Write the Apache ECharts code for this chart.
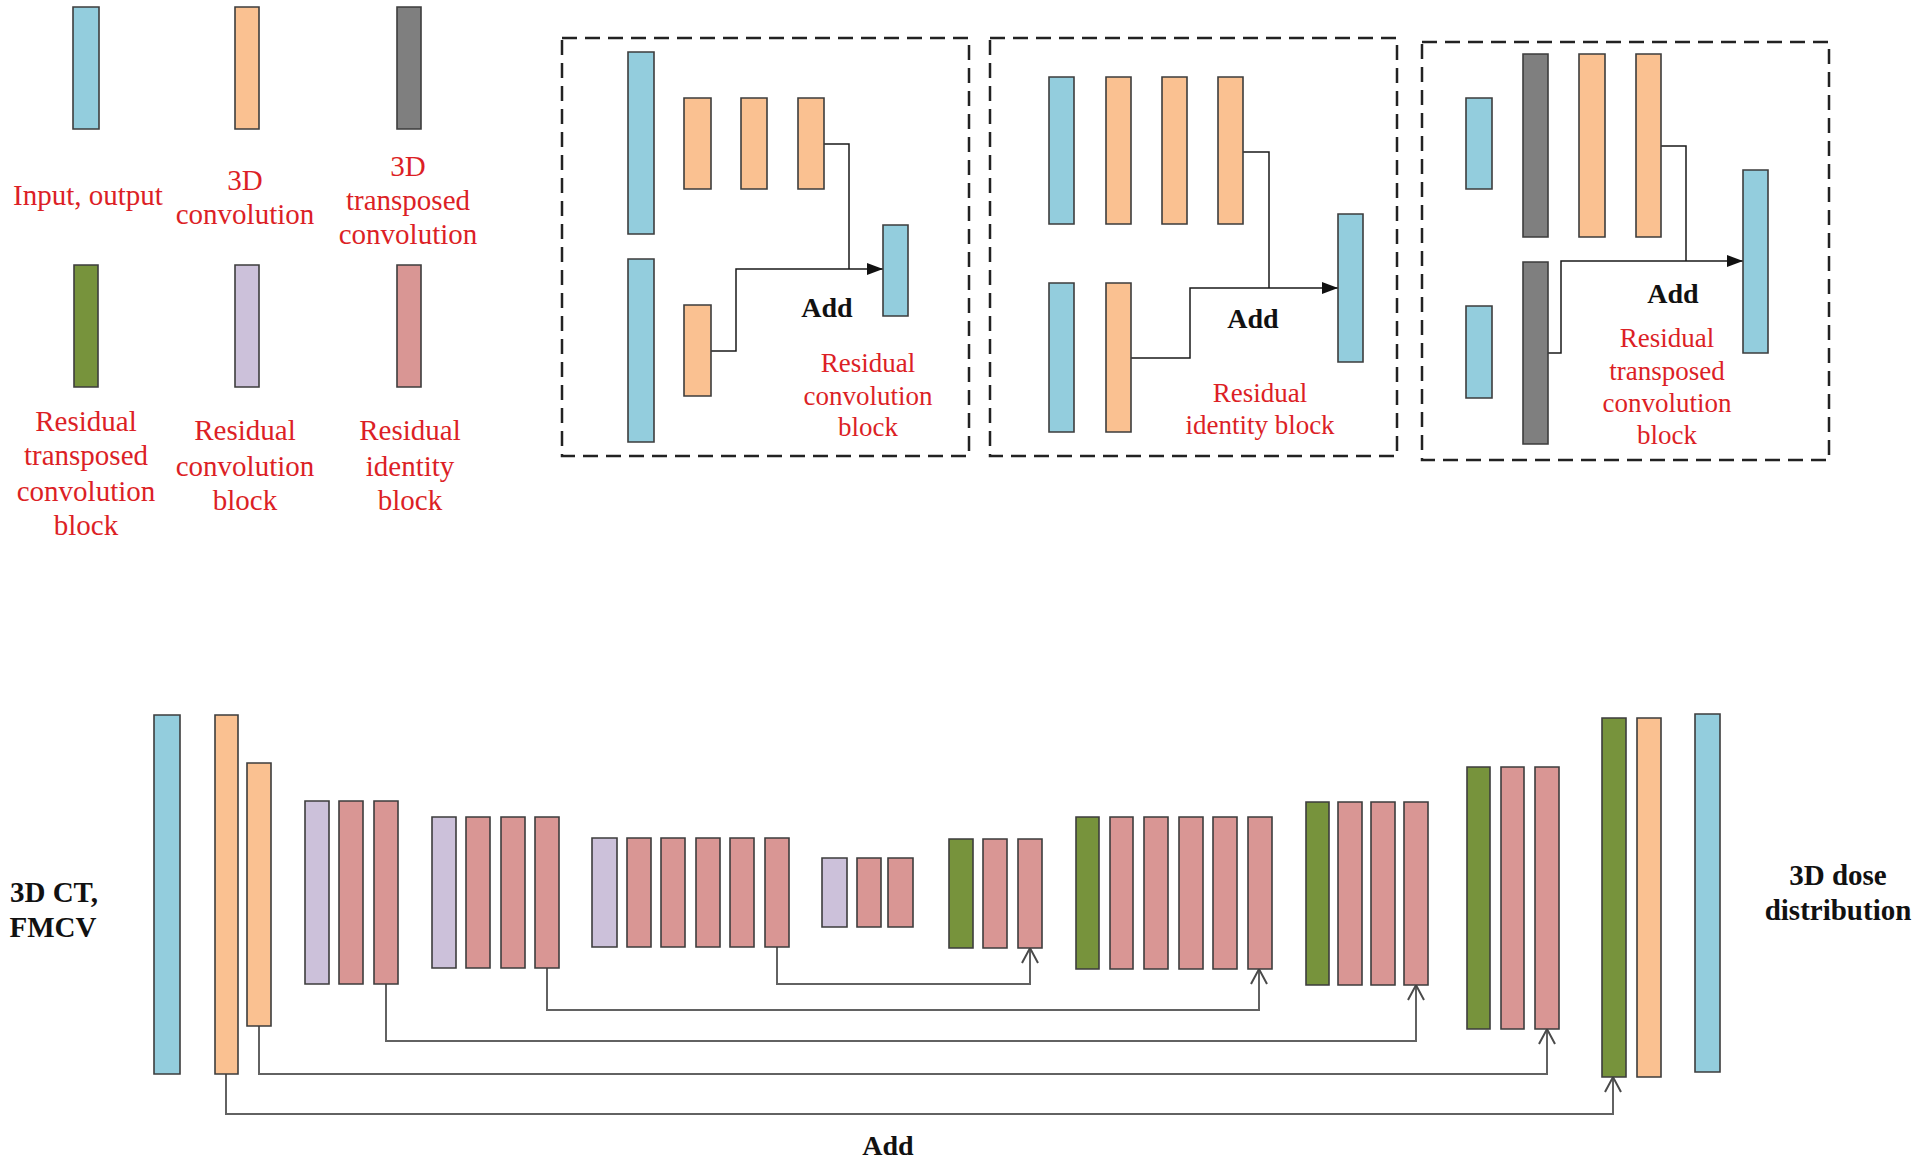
<!DOCTYPE html>
<html>
<head>
<meta charset="utf-8">
<script src="https://cdn.jsdelivr.net/npm/echarts@6/dist/echarts.min.js"></script>
<style>
html,body{margin:0;padding:0;background:#fff;}
#chart{width:1920px;height:1161px;}
</style>
</head>
<body>
<div id="chart"></div>
<script>
// ---- data (diagram units: x 0..1920, y 0..1161, y downward) ----
// block types: 0 input/output, 1 3D conv, 2 3D transposed conv, 3 residual transposed conv block, 4 residual conv block, 5 residual identity block
const typeColors = ['#93cddd', '#fac191', '#7f7f7f', '#77933c', '#ccc1da', '#d99694'];

const legendBlocks = [
  [73, 7, 99, 129, 0], [235, 7, 259, 129, 1], [397, 7, 421, 129, 2],
  [74, 265, 98, 387, 3], [235, 265, 259, 387, 4], [397, 265, 421, 387, 5]
];

const boxBlocks = [
  // residual convolution block
  [628, 52, 654, 234, 0], [684, 98, 711, 189, 1], [741, 98, 767, 189, 1], [798, 98, 824, 189, 1],
  [628, 259, 654, 442, 0], [684, 305, 711, 396, 1], [883, 225, 908, 316, 0],
  // residual identity block
  [1049, 77, 1074, 224, 0], [1106, 77, 1131, 224, 1], [1162, 77, 1187, 224, 1], [1218, 77, 1243, 224, 1],
  [1049, 283, 1074, 432, 0], [1106, 283, 1131, 432, 1], [1338, 214, 1363, 362, 0],
  // residual transposed convolution block
  [1466, 98, 1492, 189, 0], [1523, 54, 1548, 237, 2], [1579, 54, 1605, 237, 1], [1636, 54, 1661, 237, 1],
  [1466, 306, 1492, 398, 0], [1523, 262, 1548, 444, 2], [1743, 170, 1768, 353, 0]
];

const netBlocks = [
  [154, 715, 180, 1074, 0], [215, 715, 238, 1074, 1], [247, 763, 271, 1026, 1],
  [305, 801, 329, 984, 4], [339, 801, 363, 984, 5], [374, 801, 398, 984, 5],
  [432, 817, 456, 968, 4], [466, 817, 490, 968, 5], [501, 817, 525, 968, 5], [535, 817, 559, 968, 5],
  [592, 838, 617, 947, 4], [627, 838, 651, 947, 5], [661, 838, 685, 947, 5], [696, 838, 720, 947, 5], [730, 838, 754, 947, 5], [765, 838, 789, 947, 5],
  [822, 858, 847, 927, 4], [857, 858, 881, 927, 5], [888, 858, 913, 927, 5],
  [949, 839, 973, 948, 3], [983, 839, 1007, 948, 5], [1018, 839, 1042, 948, 5],
  [1076, 817, 1099, 969, 3], [1110, 817, 1133, 969, 5], [1144, 817, 1168, 969, 5], [1179, 817, 1203, 969, 5], [1213, 817, 1237, 969, 5], [1248, 817, 1272, 969, 5],
  [1306, 802, 1329, 985, 3], [1338, 802, 1362, 985, 5], [1371, 802, 1395, 985, 5], [1404, 802, 1428, 985, 5],
  [1467, 767, 1490, 1029, 3], [1501, 767, 1524, 1029, 5], [1535, 767, 1559, 1029, 5],
  [1602, 718, 1626, 1077, 3], [1637, 718, 1661, 1077, 1], [1695, 714, 1720, 1072, 0]
];

const dashedFrames = [
  [562, 38, 969, 456], [990, 38, 1397, 456], [1422, 42, 1829, 460]
];

// connectors inside the dashed boxes; arrow: 0 none, 1 filled head at end
const boxPaths = [
  [[[824, 144], [849, 144], [849, 269]], 0],
  [[[711, 351], [736, 351], [736, 269], [883, 269]], 1],
  [[[1243, 152], [1269, 152], [1269, 288]], 0],
  [[[1131, 358], [1190, 358], [1190, 288], [1338, 288]], 1],
  [[[1661, 146], [1686, 146], [1686, 261]], 0],
  [[[1548, 353], [1561, 353], [1561, 261], [1743, 261]], 1]
];

// skip connections in the network (open arrow head at end)
const skipPaths = [
  [[777, 947], [777, 984], [1030, 984], [1030, 948]],
  [[547, 968], [547, 1010], [1259, 1010], [1259, 969]],
  [[386, 984], [386, 1041], [1416, 1041], [1416, 985]],
  [[259, 1026], [259, 1074], [1547, 1074], [1547, 1029]],
  [[226, 1074], [226, 1114], [1613, 1114], [1613, 1077]]
];

// texts: [x, y, text, style] style 0 = red legend 29px, 1 = red box 27px, 2 = bold black 29px, 3 = bold black "Add" 28px
const texts = [
  [88, 195, 'Input, output', 0],
  [245, 180, '3D', 0], [245, 214, 'convolution', 0],
  [408, 166, '3D', 0], [408, 200, 'transposed', 0], [408, 234, 'convolution', 0],
  [86, 421, 'Residual', 0], [86, 455, 'transposed', 0], [86, 491, 'convolution', 0], [86, 525, 'block', 0],
  [245, 430, 'Residual', 0], [245, 466, 'convolution', 0], [245, 500, 'block', 0],
  [410, 430, 'Residual', 0], [410, 466, 'identity', 0], [410, 500, 'block', 0],
  [827, 307, 'Add', 3], [1253, 318, 'Add', 3], [1673, 293, 'Add', 3],
  [868, 363, 'Residual', 1], [868, 396, 'convolution', 1], [868, 427, 'block', 1],
  [1260, 393, 'Residual', 1], [1260, 425, 'identity block', 1],
  [1667, 338, 'Residual', 1], [1667, 371, 'transposed', 1], [1667, 403, 'convolution', 1], [1667, 435, 'block', 1],
  [54, 892, '3D CT,', 2], [53, 927, 'FMCV', 2],
  [1838, 875, '3D dose', 2], [1838, 910, 'distribution', 2],
  [888, 1145, 'Add', 3]
];

// ---- rendering ----
const textStyles = [
  { font: '29px "Liberation Serif", "Times New Roman", serif', fill: '#dc1f26' },
  { font: '27px "Liberation Serif", "Times New Roman", serif', fill: '#dc1f26' },
  { font: 'bold 29px "Liberation Serif", "Times New Roman", serif', fill: '#111' },
  { font: 'bold 28px "Liberation Serif", "Times New Roman", serif', fill: '#111' }
];

function blockSeries(arr, name) {
  return {
    type: 'custom', name: name, coordinateSystem: 'cartesian2d', clip: false, silent: true,
    data: arr.map(b => [b[0], b[1], b[2], b[3]]),
    renderItem: function (params, api) {
      const b = arr[params.dataIndex];
      const p0 = api.coord([api.value(0), api.value(1)]);
      const p1 = api.coord([api.value(2), api.value(3)]);
      return {
        type: 'rect',
        shape: { x: p0[0], y: p0[1], width: p1[0] - p0[0], height: p1[1] - p0[1] },
        style: { fill: typeColors[b[4]], stroke: '#3d3d3d', lineWidth: 1.6 }
      };
    }
  };
}

const chart = echarts.init(document.getElementById('chart'), null, { renderer: 'svg' });
chart.setOption({
  animation: false,
  backgroundColor: '#ffffff',
  grid: { left: 0, right: 0, top: 0, bottom: 0 },
  xAxis: { type: 'value', min: 0, max: 1920, show: false },
  yAxis: { type: 'value', min: 0, max: 1161, inverse: true, show: false },
  series: [
    {
      type: 'custom', name: 'frames', coordinateSystem: 'cartesian2d', clip: false, silent: true,
      data: dashedFrames.map(f => f.slice()),
      renderItem: function (params, api) {
        const p0 = api.coord([api.value(0), api.value(1)]);
        const p1 = api.coord([api.value(2), api.value(3)]);
        return {
          type: 'rect',
          shape: { x: p0[0], y: p0[1], width: p1[0] - p0[0], height: p1[1] - p0[1] },
          style: { fill: 'none', stroke: '#222', lineWidth: 2.5, lineDash: [15, 8] }
        };
      }
    },
    {
      type: 'custom', name: 'boxLinks', coordinateSystem: 'cartesian2d', clip: false, silent: true,
      data: boxPaths.map(p => [p[0][0][0], p[0][0][1]]),
      renderItem: function (params, api) {
        const item = boxPaths[params.dataIndex];
        const pts = item[0].map(pt => api.coord(pt));
        const children = [{
          type: 'polyline', shape: { points: pts },
          style: { fill: 'none', stroke: '#1a1a1a', lineWidth: 1.5 }
        }];
        if (item[1]) {
          const e = pts[pts.length - 1], s = pts[pts.length - 2];
          const dx = e[0] - s[0], dy = e[1] - s[1], L = Math.hypot(dx, dy);
          const ux = dx / L, uy = dy / L, len = 16, hw = 6;
          children.push({
            type: 'polygon',
            shape: { points: [e, [e[0] - ux * len - uy * hw, e[1] - uy * len + ux * hw], [e[0] - ux * len + uy * hw, e[1] - uy * len - ux * hw]] },
            style: { fill: '#111' }
          });
        }
        return { type: 'group', children: children };
      }
    },
    {
      type: 'custom', name: 'skips', coordinateSystem: 'cartesian2d', clip: false, silent: true,
      data: skipPaths.map(p => [p[0][0], p[0][1]]),
      renderItem: function (params, api) {
        const path = skipPaths[params.dataIndex];
        const pts = path.map(pt => api.coord(pt));
        const e = pts[pts.length - 1], s = pts[pts.length - 2];
        const dx = e[0] - s[0], dy = e[1] - s[1], L = Math.hypot(dx, dy);
        const ux = dx / L, uy = dy / L, len = 15, hw = 8;
        return {
          type: 'group', children: [
            { type: 'polyline', shape: { points: pts }, style: { fill: 'none', stroke: '#626262', lineWidth: 2 } },
            {
              type: 'polyline',
              shape: { points: [[e[0] - ux * len - uy * hw, e[1] - uy * len + ux * hw], e, [e[0] - ux * len + uy * hw, e[1] - uy * len - ux * hw]] },
              style: { fill: 'none', stroke: '#4a4a4a', lineWidth: 2 }
            }
          ]
        };
      }
    },
    blockSeries(legendBlocks, 'legendBlocks'),
    blockSeries(boxBlocks, 'boxBlocks'),
    blockSeries(netBlocks, 'netBlocks'),
    {
      type: 'custom', name: 'texts', coordinateSystem: 'cartesian2d', clip: false, silent: true,
      data: texts.map(t => [t[0], t[1]]),
      renderItem: function (params, api) {
        const t = texts[params.dataIndex];
        const p = api.coord([api.value(0), api.value(1)]);
        const st = textStyles[t[3]];
        return {
          type: 'text', x: p[0], y: p[1],
          style: { text: t[2], font: st.font, fill: st.fill, align: 'center', verticalAlign: 'middle' }
        };
      }
    }
  ]
});
</script>
</body>
</html>
